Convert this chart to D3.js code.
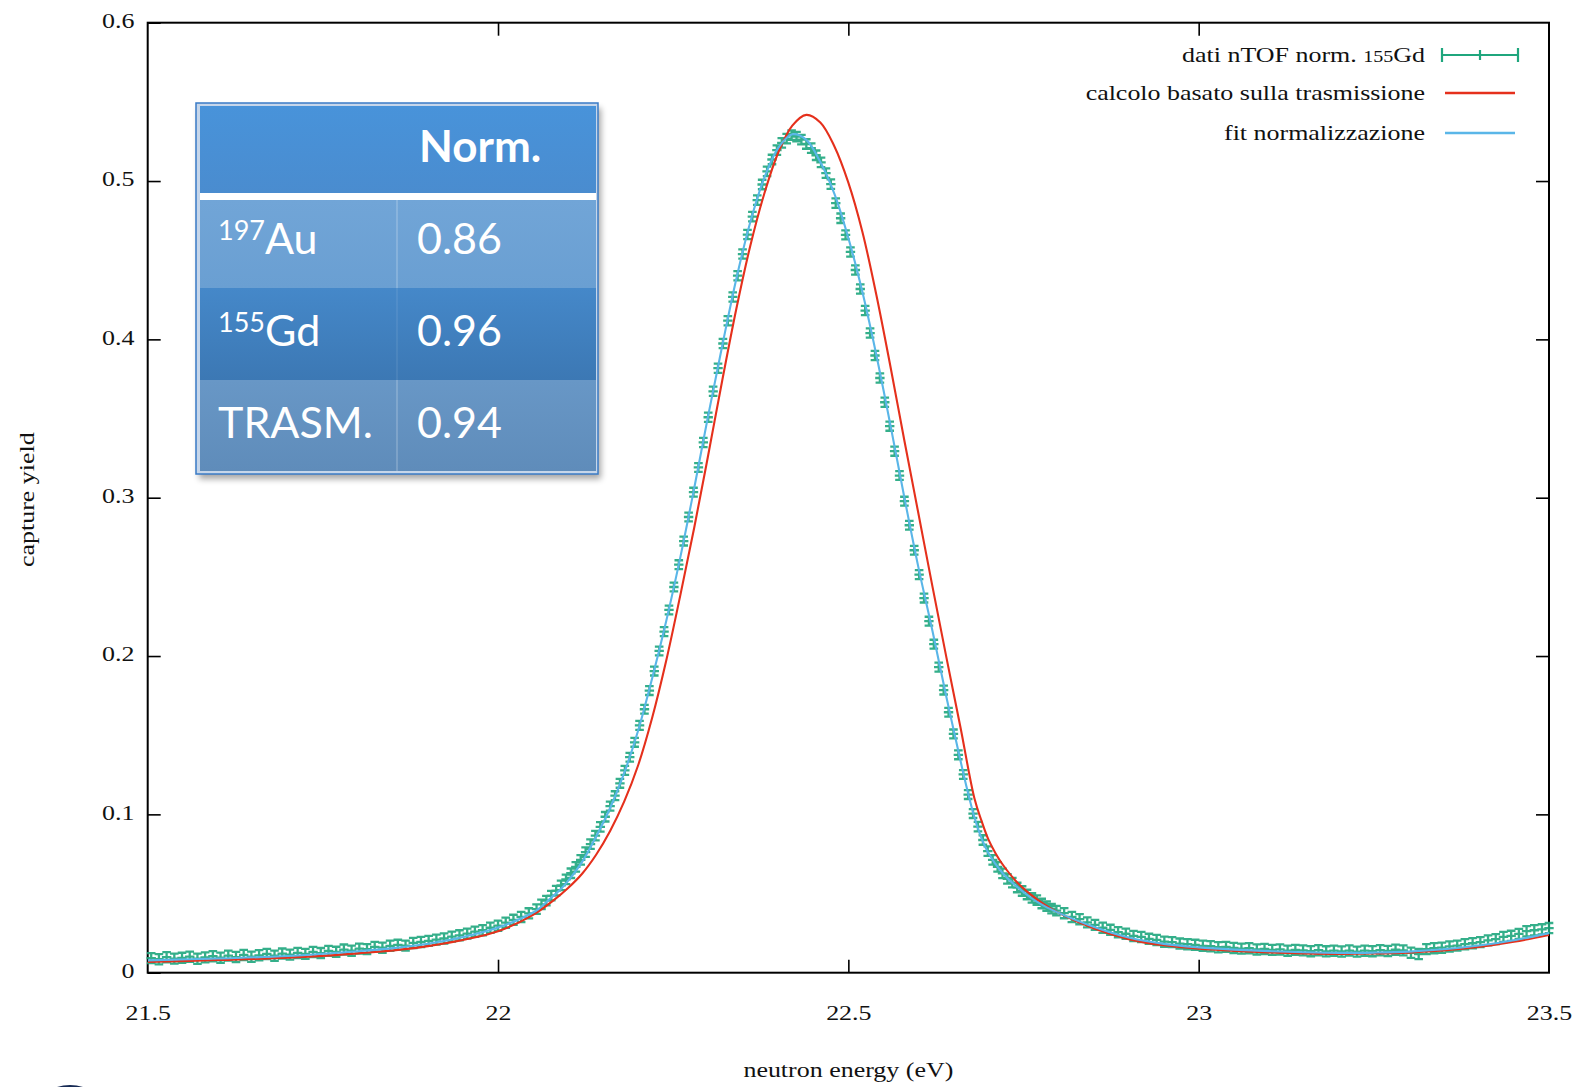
<!DOCTYPE html>
<html>
<head>
<meta charset="utf-8">
<script src="https://cdn.jsdelivr.net/npm/d3@7"></script>
<style>
  html, body { margin: 0; padding: 0; background: #ffffff; }
  svg { display: block; }
</style>
</head>
<body>
<svg id="chart" width="1577" height="1087"></svg>
<script>
// ---------------------------------------------------------------
// Capture yield of the 155Gd resonance near 22.4 eV
// ---------------------------------------------------------------

// Axis ticks
const xTicks = [21.5, 22, 22.5, 23, 23.5];
const xTickLabels = ["21.5", "22", "22.5", "23", "23.5"];
const yTicks = [0, 0.1, 0.2, 0.3, 0.4, 0.5, 0.6];
const yTickLabels = ["0", "0.1", "0.2", "0.3", "0.4", "0.5", "0.6"];

const xTitle = "neutron energy (eV)";
const yTitle = "capture yield";

// Legend entries
const legendNames = ["dati nTOF norm. ", "calcolo basato sulla trasmissione", "fit normalizzazione"];
const legendIsotope = "155";
const legendElement = "Gd";

// Normalisation table
const tableHeader = "Norm.";
const tableMass = ["197", "155", ""];
const tableSample = ["Au", "Gd", "TRASM."];
const tableNorm = ["0.86", "0.96", "0.94"];

// Measured capture yield: [energy (eV), yield, error]
const measured = [
  [21.505,0.0092,0.0032],[21.516,0.0085,0.0032],[21.527,0.0098,0.0032],[21.538,0.0089,0.0032],
  [21.549,0.0094,0.0032],[21.560,0.0101,0.0032],[21.571,0.0088,0.0032],[21.582,0.0097,0.0032],
  [21.593,0.0104,0.0032],[21.604,0.0095,0.0032],[21.615,0.0108,0.0032],[21.626,0.0099,0.0032],
  [21.637,0.0112,0.0032],[21.648,0.0101,0.0032],[21.659,0.0110,0.0032],[21.670,0.0118,0.0032],
  [21.681,0.0107,0.0032],[21.692,0.0121,0.0032],[21.703,0.0114,0.0032],[21.714,0.0125,0.0032],
  [21.725,0.0119,0.0032],[21.736,0.0131,0.0032],[21.747,0.0124,0.0032],[21.758,0.0138,0.0032],
  [21.769,0.0132,0.0032],[21.780,0.0146,0.0032],[21.791,0.0139,0.0032],[21.802,0.0152,0.0032],
  [21.813,0.0149,0.0032],[21.824,0.0163,0.0032],[21.835,0.0158,0.0032],[21.846,0.0170,0.0032],
  [21.857,0.0176,0.0032],[21.868,0.0171,0.0032],[21.879,0.0188,0.0032],[21.890,0.0194,0.0032],
  [21.901,0.0201,0.0032],[21.912,0.0209,0.0032],[21.923,0.0216,0.0032],[21.934,0.0228,0.0032],
  [21.945,0.0236,0.0032],[21.956,0.0247,0.0032],[21.967,0.0259,0.0032],[21.978,0.0268,0.0032],
  [21.989,0.0284,0.0032],[22.000,0.0297,0.0032],[22.011,0.0316,0.0032],[22.022,0.0334,0.0032],
  [22.033,0.0352,0.0032],[22.044,0.0375,0.0032],[22.055,0.0401,0.0030],[22.062,0.0432,0.0030],
  [22.069,0.0455,0.0030],[22.076,0.0487,0.0030],[22.083,0.0518,0.0030],[22.090,0.0552,0.0030],
  [22.097,0.0589,0.0030],[22.104,0.0628,0.0030],[22.111,0.0668,0.0030],[22.118,0.0712,0.0030],
  [22.125,0.0761,0.0030],[22.132,0.0812,0.0030],[22.139,0.0866,0.0030],[22.146,0.0921,0.0030],
  [22.153,0.0985,0.0030],[22.160,0.1052,0.0028],[22.167,0.1118,0.0028],[22.174,0.1196,0.0028],
  [22.181,0.1278,0.0028],[22.188,0.1361,0.0028],[22.195,0.1455,0.0028],[22.202,0.1562,0.0028],
  [22.209,0.1664,0.0028],[22.216,0.1782,0.0028],[22.223,0.1905,0.0028],[22.230,0.2032,0.0028],
  [22.237,0.2154,0.0028],[22.244,0.2291,0.0028],[22.251,0.2436,0.0028],[22.258,0.2577,0.0028],
  [22.265,0.2726,0.0028],[22.272,0.2878,0.0028],[22.279,0.3035,0.0028],[22.286,0.3191,0.0028],
  [22.293,0.3349,0.0029],[22.300,0.3508,0.0029],[22.307,0.3672,0.0029],[22.314,0.3818,0.0029],
  [22.321,0.3974,0.0029],[22.328,0.4118,0.0029],[22.335,0.4268,0.0029],[22.342,0.4402,0.0029],
  [22.349,0.4539,0.0029],[22.356,0.4662,0.0029],[22.363,0.4775,0.0030],[22.370,0.4880,0.0030],
  [22.377,0.4978,0.0030],[22.384,0.5061,0.0030],[22.391,0.5136,0.0030],[22.398,0.5195,0.0030],
  [22.405,0.5241,0.0030],[22.412,0.5268,0.0030],[22.419,0.5290,0.0030],[22.426,0.5281,0.0030],
  [22.433,0.5262,0.0030],[22.440,0.5234,0.0030],[22.447,0.5208,0.0030],[22.454,0.5163,0.0030],
  [22.461,0.5118,0.0030],[22.468,0.5050,0.0030],[22.475,0.4981,0.0030],[22.482,0.4860,0.0030],
  [22.489,0.4765,0.0030],[22.496,0.4660,0.0029],[22.503,0.4552,0.0029],[22.510,0.4438,0.0029],
  [22.517,0.4318,0.0029],[22.524,0.4182,0.0029],[22.531,0.4040,0.0029],[22.538,0.3898,0.0029],
  [22.545,0.3756,0.0029],[22.552,0.3603,0.0029],[22.559,0.3452,0.0029],[22.566,0.3294,0.0029],
  [22.573,0.3140,0.0028],[22.580,0.2978,0.0028],[22.587,0.2826,0.0028],[22.594,0.2668,0.0028],
  [22.601,0.2514,0.0028],[22.608,0.2366,0.0028],[22.615,0.2220,0.0028],[22.622,0.2075,0.0028],
  [22.629,0.1930,0.0028],[22.636,0.1785,0.0028],[22.643,0.1645,0.0028],[22.650,0.1508,0.0028],
  [22.657,0.1376,0.0028],[22.664,0.1252,0.0028],[22.671,0.1125,0.0028],[22.678,0.1005,0.0028],
  [22.685,0.0922,0.0030],[22.692,0.0838,0.0030],[22.699,0.0768,0.0030],[22.706,0.0712,0.0030],
  [22.713,0.0668,0.0030],[22.720,0.0627,0.0030],[22.727,0.0592,0.0030],[22.734,0.0569,0.0030],
  [22.741,0.0538,0.0030],[22.748,0.0516,0.0030],[22.755,0.0494,0.0030],[22.762,0.0472,0.0030],
  [22.769,0.0458,0.0030],[22.776,0.0437,0.0030],[22.783,0.0421,0.0030],[22.790,0.0405,0.0030],
  [22.797,0.0392,0.0030],[22.808,0.0376,0.0032],[22.819,0.0352,0.0032],[22.830,0.0338,0.0032],
  [22.841,0.0318,0.0032],[22.852,0.0302,0.0032],[22.863,0.0284,0.0032],[22.874,0.0271,0.0032],
  [22.885,0.0256,0.0032],[22.896,0.0246,0.0032],[22.907,0.0232,0.0032],[22.918,0.0226,0.0032],
  [22.929,0.0214,0.0032],[22.940,0.0207,0.0032],[22.951,0.0196,0.0032],[22.962,0.0193,0.0032],
  [22.973,0.0184,0.0032],[22.984,0.0180,0.0032],[22.995,0.0176,0.0032],[23.006,0.0170,0.0032],
  [23.017,0.0167,0.0032],[23.028,0.0161,0.0032],[23.039,0.0163,0.0032],[23.050,0.0156,0.0032],
  [23.061,0.0152,0.0032],[23.072,0.0155,0.0032],[23.083,0.0147,0.0032],[23.094,0.0150,0.0032],
  [23.105,0.0144,0.0032],[23.116,0.0147,0.0032],[23.127,0.0139,0.0032],[23.138,0.0144,0.0032],
  [23.149,0.0141,0.0032],[23.160,0.0136,0.0032],[23.171,0.0142,0.0032],[23.182,0.0135,0.0032],
  [23.193,0.0139,0.0032],[23.204,0.0134,0.0032],[23.215,0.0140,0.0032],[23.226,0.0133,0.0032],
  [23.237,0.0139,0.0032],[23.248,0.0136,0.0032],[23.259,0.0142,0.0032],[23.270,0.0137,0.0032],
  [23.281,0.0145,0.0032],[23.292,0.0141,0.0032],[23.303,0.0126,0.0032],[23.314,0.0118,0.0032],
  [23.325,0.0149,0.0032],[23.336,0.0155,0.0032],[23.347,0.0158,0.0032],[23.358,0.0166,0.0032],
  [23.369,0.0171,0.0032],[23.380,0.0180,0.0032],[23.391,0.0186,0.0032],[23.402,0.0193,0.0032],
  [23.413,0.0204,0.0032],[23.424,0.0212,0.0032],[23.435,0.0226,0.0032],[23.446,0.0233,0.0032],
  [23.457,0.0245,0.0032],[23.468,0.0262,0.0032],[23.479,0.0268,0.0032],[23.490,0.0274,0.0032],
  [23.500,0.0282,0.0032]
];

// Yield computed from the transmission data: [energy (eV), yield]
const transmissionCalc = [
  [21.50,0.0068],[21.60,0.0080],[21.70,0.0095],[21.80,0.0122],[21.90,0.0168],[22.00,0.0262],
  [22.05,0.0365],[22.08,0.0460],[22.10,0.0535],[22.12,0.0625],[22.14,0.0745],[22.16,0.0895],
  [22.18,0.1080],[22.20,0.1310],[22.22,0.1610],[22.24,0.1970],[22.26,0.2380],[22.28,0.2810],
  [22.30,0.3270],[22.32,0.3740],[22.34,0.4190],[22.36,0.4590],[22.38,0.4920],[22.40,0.5180],
  [22.42,0.5350],[22.44,0.5418],[22.46,0.5370],[22.48,0.5220],[22.50,0.4990],[22.52,0.4680],
  [22.54,0.4280],[22.56,0.3830],[22.58,0.3360],[22.60,0.2900],[22.62,0.2440],[22.64,0.1990],
  [22.66,0.1550],[22.68,0.1100],[22.69,0.0960],[22.70,0.0840],[22.71,0.0755],[22.72,0.0685],
  [22.74,0.0575],[22.76,0.0495],[22.78,0.0430],[22.80,0.0378],[22.85,0.0280],[22.90,0.0212],
  [22.95,0.0173],[23.00,0.0151],[23.05,0.0138],[23.10,0.0128],[23.15,0.0122],[23.20,0.0119],
  [23.25,0.0121],[23.30,0.0127],[23.35,0.0140],[23.40,0.0162],[23.45,0.0195],[23.50,0.0238]
];

// Normalisation fit: [energy (eV), yield]
const normFit = [
  [21.50,0.0078],[21.60,0.0090],[21.70,0.0105],[21.80,0.0135],[21.85,0.0155],[21.90,0.0183],
  [21.95,0.0225],[22.00,0.0285],[22.05,0.0380],[22.06,0.0410],[22.075,0.0470],[22.09,0.0530],
  [22.10,0.0580],[22.12,0.0700],[22.14,0.0860],[22.16,0.1040],[22.18,0.1260],[22.20,0.1530],
  [22.22,0.1860],[22.24,0.2220],[22.26,0.2620],[22.28,0.3060],[22.30,0.3520],[22.32,0.3960],
  [22.34,0.4380],[22.36,0.4740],[22.38,0.5020],[22.40,0.5210],[22.42,0.5295],[22.44,0.5260],
  [22.46,0.5120],[22.48,0.4920],[22.50,0.4640],[22.52,0.4300],[22.54,0.3900],[22.56,0.3460],
  [22.58,0.3000],[22.60,0.2560],[22.62,0.2160],[22.64,0.1740],[22.66,0.1340],[22.67,0.1150],
  [22.68,0.0980],[22.69,0.0850],[22.70,0.0755],[22.72,0.0630],[22.74,0.0545],[22.76,0.0475],
  [22.78,0.0420],[22.80,0.0378],[22.85,0.0290],[22.90,0.0222],[22.95,0.0182],[23.00,0.0160],
  [23.05,0.0146],[23.10,0.0136],[23.15,0.0129],[23.20,0.0125],[23.25,0.0127],[23.30,0.0133],
  [23.35,0.0148],[23.40,0.0172],[23.45,0.0205],[23.50,0.0250]
];

// ---------------------------------------------------------------
const colData = "#1fa67d";
const colCalc = "#e5301c";
const colFit  = "#5ab6e8";
const serif = "'Liberation Serif', 'Times New Roman', serif";
const stretch = "scale(1.18,1)";   // gnuplot output is horizontally widened

const plot = { left: 147.7, right: 1549, top: 22.7, bottom: 972.7 };

const svg = d3.select("#chart");

const x = d3.scaleLinear().domain([21.5, 23.5]).range([plot.left, plot.right]);
const y = d3.scaleLinear().domain([0, 0.6]).range([plot.bottom, plot.top]);

const defs = svg.append("defs");
defs.append("clipPath").attr("id", "plotClip")
  .append("rect")
  .attr("x", plot.left).attr("y", plot.top)
  .attr("width", plot.right - plot.left).attr("height", plot.bottom - plot.top);
// slight softening of the plotted marks
defs.append("filter").attr("id", "soft")
  .append("feGaussianBlur").attr("stdDeviation", 0.45);

// ---- axes (ticks point inward on all four sides)
const tickLen = 13;

function styleAxis(g) {
  g.select(".domain").remove();
  g.selectAll(".tick line").attr("stroke", "#000").attr("stroke-width", 1.6);
  g.selectAll(".tick text")
    .attr("fill", "#111")
    .style("font-family", serif)
    .style("font-size", "22px");
}

const yLabelOf = d3.scaleOrdinal().domain(yTicks).range(yTickLabels);
const xLabelOf = d3.scaleOrdinal().domain(xTicks).range(xTickLabels);

svg.append("g")
  .attr("transform", `translate(${plot.left},0)`)
  .call(d3.axisLeft(y).tickValues(yTicks).tickSize(-tickLen).tickPadding(13.3)
        .tickFormat(d => yLabelOf(d)))
  .call(styleAxis)
  .call(g => g.selectAll(".tick text").attr("transform", stretch).attr("dy", "0.22em"));

svg.append("g")
  .attr("transform", `translate(${plot.right},0)`)
  .call(d3.axisRight(y).tickValues(yTicks.slice(1, -1)).tickSize(-tickLen).tickFormat(""))
  .call(styleAxis);

svg.append("g")
  .attr("transform", `translate(0,${plot.bottom})`)
  .call(d3.axisBottom(x).tickValues(xTicks).tickSize(-tickLen).tickPadding(31.7)
        .tickFormat(d => xLabelOf(d)))
  .call(styleAxis)
  .call(g => g.selectAll(".tick line").filter((d, i) => i === 0 || i === xTicks.length - 1).remove())
  .call(g => g.selectAll(".tick text").attr("transform", stretch)
        .attr("x", 0).attr("text-anchor", "middle"));

svg.append("g")
  .attr("transform", `translate(0,${plot.top})`)
  .call(d3.axisTop(x).tickValues(xTicks.slice(1, -1)).tickSize(-tickLen).tickFormat(""))
  .call(styleAxis);

// stretched tick labels keep their anchor in unscaled units
svg.selectAll(".tick text").each(function () {
  const t = d3.select(this);
  if (t.attr("transform") === stretch) {
    const xx = +t.attr("x") || 0;
    t.attr("x", xx / 1.18);
  }
});

// ---- frame
svg.append("rect")
  .attr("x", plot.left).attr("y", plot.top)
  .attr("width", plot.right - plot.left).attr("height", plot.bottom - plot.top)
  .attr("fill", "none").attr("stroke", "#000").attr("stroke-width", 2);

// ---- axis titles
svg.append("text")
  .attr("transform", `translate(34,${(plot.top + plot.bottom) / 2 + 2}) rotate(-90) ${stretch}`)
  .attr("text-anchor", "middle")
  .style("font-family", serif).style("font-size", "22px").attr("fill", "#111")
  .text(yTitle);

svg.append("text")
  .attr("transform", `translate(${(plot.left + plot.right) / 2},1077) ${stretch}`)
  .attr("text-anchor", "middle")
  .style("font-family", serif).style("font-size", "22px").attr("fill", "#111")
  .text(xTitle);

// ---- measured points with error bars ("+" point, vertical bar with caps)
const capHalf = 4.3, plusHalf = 4.7;
const pts = d3.path();
measured.forEach(([e, v, err]) => {
  const px = x(e), py = y(v), y0 = y(v - err), y1 = y(v + err);
  pts.moveTo(px, y0); pts.lineTo(px, y1);
  pts.moveTo(px - capHalf, y0); pts.lineTo(px + capHalf, y0);
  pts.moveTo(px - capHalf, y1); pts.lineTo(px + capHalf, y1);
  pts.moveTo(px - plusHalf, py); pts.lineTo(px + plusHalf, py);
});
svg.append("path")
  .attr("d", pts.toString())
  .attr("fill", "none")
  .attr("stroke", colData)
  .attr("stroke-width", 2.3)
  .attr("stroke-opacity", 0.9)
  .attr("filter", "url(#soft)");

// ---- curves
const line = d3.line()
  .x(d => x(d[0]))
  .y(d => y(d[1]))
  .curve(d3.curveCatmullRom.alpha(0.5));

const curves = svg.append("g").attr("clip-path", "url(#plotClip)");
curves.append("path").datum(transmissionCalc)
  .attr("d", line).attr("fill", "none")
  .attr("stroke", colCalc).attr("stroke-width", 2.1);
curves.append("path").datum(normFit)
  .attr("d", line).attr("fill", "none")
  .attr("stroke", colFit).attr("stroke-width", 2.1);

// ---- legend
const legX = 1425, sampleX0 = 1442, sampleX1 = 1518;
const legY = [62, 100, 140];
const legColors = [colData, colCalc, colFit];
const legend = svg.append("g");
legendNames.forEach((name, i) => {
  const t = legend.append("text")
    .attr("transform", `translate(${legX},${legY[i]}) ${stretch}`)
    .attr("text-anchor", "end")
    .style("font-family", serif).style("font-size", "22px").attr("fill", "#111");
  t.append("tspan").text(name);
  if (i === 0) {
    t.append("tspan").style("font-size", "17px").text(legendIsotope);
    t.append("tspan").text(legendElement);
  }
  const ly = legY[i] - 7;
  if (i === 0) {
    const kp = d3.path();
    kp.moveTo(sampleX0, ly); kp.lineTo(sampleX1, ly);
    kp.moveTo(sampleX0, ly - 7); kp.lineTo(sampleX0, ly + 7);
    kp.moveTo(sampleX1, ly - 7); kp.lineTo(sampleX1, ly + 7);
    const mx = (sampleX0 + sampleX1) / 2;
    kp.moveTo(mx, ly - 5); kp.lineTo(mx, ly + 5);
    legend.append("path").attr("d", kp.toString()).attr("fill", "none")
      .attr("stroke", colData).attr("stroke-width", 2.2);
  } else {
    legend.append("line")
      .attr("x1", sampleX0 + 3).attr("x2", sampleX1 - 3)
      .attr("y1", ly).attr("y2", ly)
      .attr("stroke", legColors[i]).attr("stroke-width", 2.3);
  }
});

// ---- normalisation table
function grad(id, c0, c1) {
  const g = defs.append("linearGradient").attr("id", id)
    .attr("x1", 0).attr("y1", 0).attr("x2", 0).attr("y2", 1);
  g.append("stop").attr("offset", 0).attr("stop-color", c0);
  g.append("stop").attr("offset", 1).attr("stop-color", c1);
}
grad("gHead", "#4893da", "#4a8ccf");
grad("gRow1", "#71a5d7", "#6a9fd2");
grad("gRow2", "#4588c9", "#3c78b4");
grad("gRow3", "#6897c6", "#5f8cba");
const shadow = defs.append("filter").attr("id", "tabShadow")
  .attr("x", "-10%").attr("y", "-10%").attr("width", "120%").attr("height", "120%");
shadow.append("feGaussianBlur").attr("stdDeviation", 3);

const tab = { x0: 196, y0: 103, x1: 598, y1: 474 };
const inner = { x0: 200, x1: 596 };
const rowEdges = [106, 193, 200, 288, 380, 471];
const colSplit = 397;

const table = svg.append("g");
table.append("rect")
  .attr("x", tab.x0 + 3).attr("y", tab.y0 + 5)
  .attr("width", tab.x1 - tab.x0).attr("height", tab.y1 - tab.y0)
  .attr("fill", "#000").attr("opacity", 0.35).attr("filter", "url(#tabShadow)");
table.append("rect")
  .attr("x", tab.x0).attr("y", tab.y0)
  .attr("width", tab.x1 - tab.x0).attr("height", tab.y1 - tab.y0)
  .attr("fill", "#c6d6ea").attr("stroke", "#3a7bc6").attr("stroke-width", 1.5);

const bands = [
  { y0: rowEdges[0], y1: rowEdges[1], fill: "url(#gHead)" },
  { y0: rowEdges[1], y1: rowEdges[2], fill: "#ffffff" },
  { y0: rowEdges[2], y1: rowEdges[3], fill: "url(#gRow1)" },
  { y0: rowEdges[3], y1: rowEdges[4], fill: "url(#gRow2)" },
  { y0: rowEdges[4], y1: rowEdges[5], fill: "url(#gRow3)" }
];
table.selectAll("rect.band").data(bands).join("rect")
  .attr("class", "band")
  .attr("x", inner.x0).attr("width", inner.x1 - inner.x0)
  .attr("y", d => d.y0).attr("height", d => d.y1 - d.y0)
  .attr("fill", d => d.fill);

[[rowEdges[2], rowEdges[3], 0.3], [rowEdges[3], rowEdges[4], 0.12], [rowEdges[4], rowEdges[5], 0.3]]
  .forEach(([a, b, o]) => {
    table.append("line")
      .attr("x1", colSplit).attr("x2", colSplit).attr("y1", a).attr("y2", b)
      .attr("stroke", "#ffffff").attr("stroke-opacity", o).attr("stroke-width", 1.2);
  });

const sans = "Lato, 'Open Sans', sans-serif";
table.append("text")
  .attr("x", 419).attr("y", 162)
  .style("font-family", sans).style("font-size", "44px").style("font-weight", "700")
  .attr("fill", "#ffffff").text(tableHeader);

const baselines = [254, 346, 438];
tableSample.forEach((s, i) => {
  const t = table.append("text")
    .attr("x", 218).attr("y", baselines[i])
    .style("font-family", sans).style("font-size", "43px")
    .attr("fill", "#ffffff");
  if (tableMass[i]) {
    t.append("tspan").style("font-size", "27px").attr("dy", -14).text(tableMass[i]);
    t.append("tspan").attr("dy", 14).text(s);
  } else {
    t.append("tspan").text(s);
  }
  table.append("text")
    .attr("x", 417).attr("y", baselines[i])
    .style("font-family", sans).style("font-size", "43px")
    .attr("fill", "#ffffff").text(tableNorm[i]);
});

// ---- corner badge partly visible at the lower edge
svg.append("ellipse")
  .attr("cx", 70).attr("cy", 1122).attr("rx", 40).attr("ry", 37)
  .attr("fill", "#182b55");
</script>
</body>
</html>
